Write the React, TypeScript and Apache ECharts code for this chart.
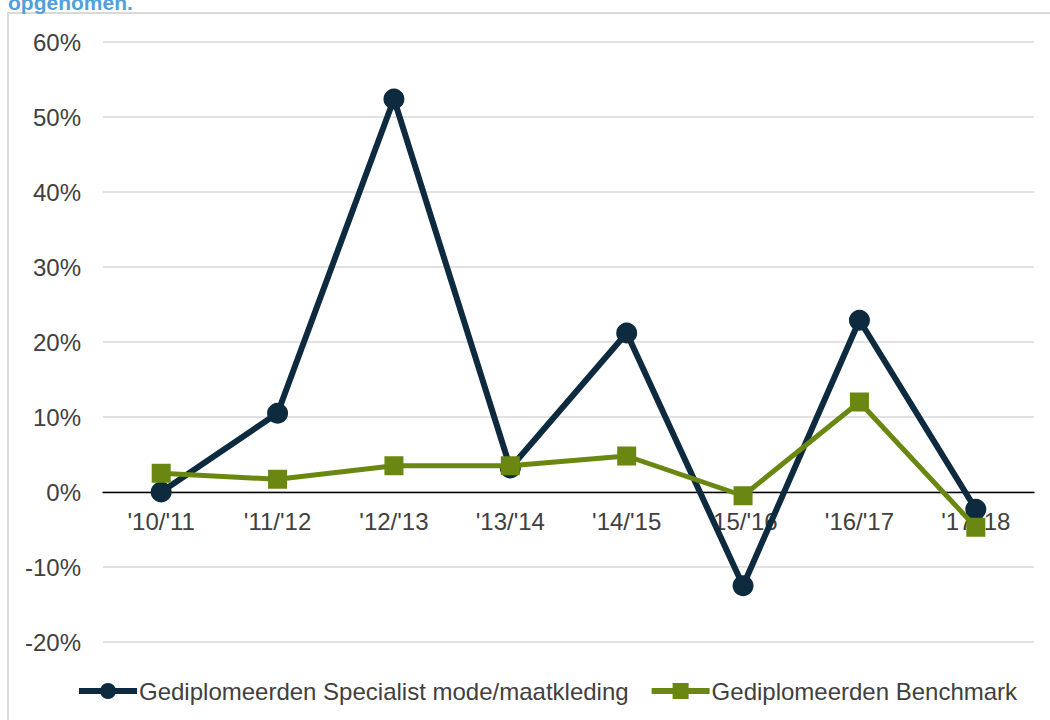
import React, { useEffect, useRef } from "react";
import * as echarts from "echarts";

const categories = ["'10/'11", "'11/'12", "'12/'13", "'13/'14", "'14/'15", "'15/'16", "'16/'17", "'17/'18"];
const specialistValues = [0.0, 10.5, 52.4, 3.2, 21.2, -12.5, 22.9, -2.3];
const benchmarkValues = [2.5, 1.7, 3.5, 3.5, 4.8, -0.5, 12.0, -4.7];
const seriesNames = ["Gediplomeerden Specialist mode/maatkleding", "Gediplomeerden Benchmark"];
const titleText = "opgenomen.";

const FONT = "'Liberation Sans', Arial, sans-serif";

export default function App() {
  const ref = useRef<HTMLDivElement>(null);
  useEffect(() => {
    if (!ref.current) return;
    const chart = echarts.init(ref.current, undefined, { renderer: "svg" });
    chart.setOption({
      animation: false,
      backgroundColor: "#ffffff",
      textStyle: { fontFamily: FONT },
      graphic: [
        {
          type: "rect",
          shape: { x: 8, y: 13, width: 1100, height: 800 },
          style: { fill: "none", stroke: "#D9D9D9", lineWidth: 2 },
          z: -1,
        },
        {
          type: "text",
          x: 8,
          y: 12.5,
          style: {
            text: titleText,
            fill: "#539FDB",
            font: `bold 21px ${FONT}`,
            verticalAlign: "bottom",
            align: "left",
          },
        },
      ],
      grid: { left: 103, right: 16, top: 42, bottom: 78, containLabel: false },
      legend: {
        left: 76,
        top: 679,
        padding: 0,
        itemWidth: 58,
        itemHeight: 20,
        itemGap: 20,
        lineStyle: { width: 6 },
        textStyle: { fontSize: 24, color: "#404040", fontFamily: FONT, padding: [0, 0, 0, -3] },
        data: seriesNames,
      },
      xAxis: {
        type: "category",
        data: categories,
        boundaryGap: true,
        axisLine: { onZero: true, lineStyle: { color: "#000000", width: 1.3 } },
        axisTick: { show: false },
        axisLabel: { fontSize: 24, color: "#404040", margin: -133, fontFamily: FONT },
        splitLine: { show: false },
      },
      yAxis: {
        type: "value",
        min: -20,
        max: 60,
        interval: 10,
        axisLine: { show: false },
        axisTick: { show: false },
        axisLabel: {
          fontSize: 24,
          color: "#404040",
          margin: 22,
          fontFamily: FONT,
          formatter: (v: number) => `${v}%`,
        },
        splitLine: { lineStyle: { color: "#D9D9D9", width: 1.5 } },
      },
      series: [
        {
          name: seriesNames[0],
          type: "line",
          data: specialistValues,
          symbol: "circle",
          symbolSize: 21,
          lineStyle: { color: "#0D2A3F", width: 6 },
          itemStyle: { color: "#0D2A3F" },
          z: 2,
        },
        {
          name: seriesNames[1],
          type: "line",
          data: benchmarkValues,
          symbol: "rect",
          symbolSize: 19,
          lineStyle: { color: "#6A8712", width: 5 },
          itemStyle: { color: "#6A8712" },
          z: 3,
        },
      ],
    });
    return () => chart.dispose();
  }, []);
  return <div ref={ref} style={{ position: "absolute", left: 0, top: 0, width: 1050, height: 720 }} />;
}
